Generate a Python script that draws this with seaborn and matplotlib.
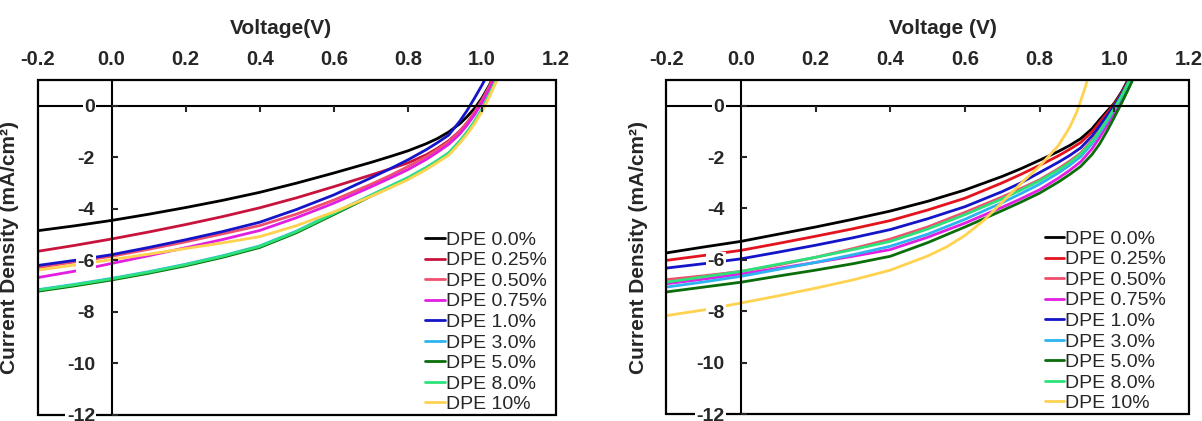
import pandas as pd
import matplotlib
matplotlib.use("Agg")
import matplotlib.pyplot as plt
import seaborn as sns
from matplotlib.patches import Rectangle

# shared voltage grid (V)
voltage = [-0.2, -0.1, 0.0, 0.1, 0.2, 0.3, 0.4, 0.5, 0.6, 0.7, 0.75, 0.8,
           0.85, 0.88, 0.91, 0.94, 0.96, 0.98, 1.0, 1.02, 1.04, 1.06]

labels = ["DPE 0.0%", "DPE 0.25%", "DPE 0.50%", "DPE 0.75%", "DPE 1.0%",
          "DPE 3.0%", "DPE 5.0%", "DPE 8.0%", "DPE 10%"]

colors_left = ["#000000", "#c8143c", "#f0506e", "#e21ee2", "#1414c8",
               "#2cb4f0", "#0a6e0a", "#2ee27a", "#ffd250"]
colors_right = ["#000000", "#e3141e", "#f0506e", "#e21ee2", "#1414c8",
                "#2cb4f0", "#0a6e0a", "#2ee27a", "#ffd250"]

# left panel current density (mA/cm2)
left_00 = [-4.85, -4.66, -4.45, -4.21, -3.95, -3.67, -3.36, -3.0, -2.61, -2.2, -1.98,
           -1.75, -1.47, -1.27, -1.02, -0.7, -0.42, -0.1, 0.3, 0.8, 1.4, 2.0]
left_025 = [-5.65, -5.42, -5.17, -4.9, -4.61, -4.3, -3.96, -3.57, -3.14, -2.69, -2.46,
            -2.22, -1.9, -1.65, -1.36, -0.98, -0.66, -0.28, 0.18, 0.72, 1.35, 2.0]
left_050 = [-6.28, -6.06, -5.84, -5.57, -5.28, -4.97, -4.65, -4.2, -3.66, -3.05, -2.72,
            -2.36, -1.97, -1.7, -1.4, -1.0, -0.65, -0.25, 0.22, 0.75, 1.35, 2.0]
left_075 = [-6.67, -6.42, -6.12, -5.82, -5.51, -5.19, -4.84, -4.34, -3.78, -3.15, -2.82,
            -2.48, -2.08, -1.8, -1.5, -1.1, -0.75, -0.35, 0.12, 0.65, 1.25, 1.9]
left_10 = [-6.2, -6.0, -5.78, -5.5, -5.2, -4.88, -4.52, -4.02, -3.46, -2.8, -2.46,
           -2.1, -1.7, -1.43, -1.14, -0.6, -0.18, 0.3, 0.8, 1.35, 1.95, 2.6]
left_30 = [-7.14, -6.93, -6.7, -6.44, -6.15, -5.82, -5.44, -4.86, -4.16, -3.47, -3.13,
           -2.79, -2.39, -2.12, -1.83, -1.37, -1.01, -0.61, -0.13, 0.43, 1.06, 1.71]
left_50 = [-7.2, -6.99, -6.76, -6.5, -6.21, -5.88, -5.5, -4.92, -4.22, -3.51, -3.17,
           -2.83, -2.43, -2.16, -1.87, -1.41, -1.05, -0.65, -0.17, 0.39, 1.02, 1.67]
left_80 = [-7.16, -6.95, -6.72, -6.46, -6.17, -5.84, -5.46, -4.88, -4.18, -3.48, -3.14,
           -2.8, -2.4, -2.13, -1.84, -1.38, -1.02, -0.62, -0.14, 0.42, 1.05, 1.7]
left_100 = [-6.38, -6.18, -5.97, -5.76, -5.54, -5.32, -5.08, -4.65, -4.12, -3.52, -3.2,
            -2.87, -2.47, -2.2, -1.92, -1.45, -1.1, -0.7, -0.22, 0.35, 0.98, 1.65]

# right panel current density (mA/cm2)
right_00 = [-5.73, -5.5, -5.28, -5.0, -4.72, -4.42, -4.1, -3.72, -3.28, -2.75, -2.45,
            -2.12, -1.78, -1.55, -1.28, -0.9, -0.55, -0.22, 0.1, 0.55, 1.1, 1.7]
right_025 = [-6.02, -5.83, -5.63, -5.36, -5.08, -4.79, -4.47, -4.06, -3.6, -3.0, -2.67,
             -2.32, -1.95, -1.7, -1.43, -1.02, -0.66, -0.3, 0.06, 0.5, 1.05, 1.65]
right_050 = [-6.77, -6.62, -6.45, -6.2, -5.9, -5.56, -5.19, -4.72, -4.15, -3.55, -3.22,
             -2.88, -2.45, -2.16, -1.84, -1.35, -0.95, -0.52, -0.06, 0.42, 0.98, 1.6]
right_075 = [-6.93, -6.75, -6.55, -6.33, -6.1, -5.86, -5.6, -5.12, -4.57, -3.95, -3.62,
             -3.27, -2.82, -2.52, -2.18, -1.68, -1.25, -0.78, -0.25, 0.28, 0.88, 1.5]
right_10 = [-6.32, -6.15, -5.96, -5.7, -5.43, -5.14, -4.82, -4.4, -3.93, -3.34, -3.0,
            -2.6, -2.2, -1.94, -1.64, -1.18, -0.8, -0.4, 0.0, 0.45, 1.0, 1.6]
right_30 = [-7.06, -6.86, -6.64, -6.37, -6.1, -5.8, -5.47, -5.0, -4.42, -3.77, -3.42,
            -3.05, -2.62, -2.32, -1.98, -1.48, -1.07, -0.62, -0.14, 0.36, 0.94, 1.55]
right_50 = [-7.25, -7.06, -6.87, -6.63, -6.4, -6.15, -5.86, -5.33, -4.72, -4.08, -3.75,
            -3.4, -2.97, -2.68, -2.36, -1.9, -1.5, -1.0, -0.45, 0.12, 0.72, 1.35]
right_80 = [-6.87, -6.66, -6.45, -6.17, -5.9, -5.6, -5.28, -4.8, -4.24, -3.62, -3.28,
            -2.92, -2.5, -2.22, -1.88, -1.4, -1.0, -0.56, -0.1, 0.4, 0.98, 1.6]
# the 10% device on the right reaches Voc earlier, own voltage grid
voltage_right_100 = [-0.2, -0.1, 0.0, 0.1, 0.2, 0.3, 0.4, 0.5, 0.55, 0.6, 0.65, 0.7,
                     0.75, 0.8, 0.85, 0.88, 0.9, 0.92, 0.94]
right_100 = [-8.17, -7.95, -7.68, -7.4, -7.1, -6.78, -6.4, -5.85, -5.5, -5.05, -4.47,
             -3.75, -3.02, -2.35, -1.55, -0.85, -0.22, 0.62, 1.6]

left_series = [left_00, left_025, left_050, left_075, left_10, left_30, left_50, left_80, left_100]
right_series = [right_00, right_025, right_050, right_075, right_10, right_30, right_50, right_80]

xticks = [-0.2, 0.0, 0.2, 0.4, 0.6, 0.8, 1.0, 1.2]
yticks = [0, -2, -4, -6, -8, -10, -12]


def build_frame(series, volts):
    rows = []
    for lab, cur, v in zip(labels, series, volts):
        rows.append(pd.DataFrame({"V": v, "J": cur, "sample": lab}))
    return pd.concat(rows, ignore_index=True)


def draw_panel(ax, df, colors, xlabel, xlabel_x, legend_x):
    sns.lineplot(data=df, x="V", y="J", hue="sample", hue_order=labels,
                 palette=dict(zip(labels, colors)), sort=False, estimator=None,
                 linewidth=2.0, ax=ax, legend="full")
    ax.set_axisbelow(False)
    ax.set_xlim(-0.2, 1.2)
    ax.set_ylim(-12, 1.0)
    ax.axhline(0, color="black", lw=1.5, zorder=2.1)
    ax.axvline(0, color="black", lw=1.5, zorder=2.1)

    for side in ["left", "bottom", "top", "right"]:
        ax.spines[side].set_visible(False)
    ax.add_patch(Rectangle((0, 0), 1, 1, transform=ax.transAxes, fill=False,
                           lw=1.6, edgecolor="black", clip_on=False, zorder=2.2))

    # x ticks hang below the J=0 line, y ticks sit on the V=0 line
    ax.spines["bottom"].set_position(("data", 0))
    ax.spines["left"].set_position(("data", 0))
    ax.set_xticks([0.2, 0.4, 0.6, 0.8, 1.0])
    ax.tick_params(axis="x", bottom=True, direction="out", length=4.5, width=1.5,
                   labelbottom=False)
    ax.set_yticks(yticks)
    ax.set_yticklabels([str(t) for t in yticks])
    ax.tick_params(axis="y", left=True, direction="in", length=4.5, width=1.5,
                   pad=12, labelsize=14)
    for lab in ax.get_yticklabels():
        lab.set_fontweight("bold")
        lab.set_bbox(dict(facecolor="white", edgecolor="none", pad=1.0))
    ax.set_xlabel("")
    ax.set_ylabel("Current Density (mA/cm²)", fontsize=15, fontweight="bold")
    ax.yaxis.set_label_coords(-0.035, 0.5)

    sec = ax.secondary_xaxis("top")
    sec.set_xticks(xticks)
    sec.set_xticklabels([f"{t:.1f}" for t in xticks])
    sec.tick_params(length=0, pad=8, labelsize=14.5)
    for lab in sec.get_xticklabels():
        lab.set_fontweight("bold")
    sec.spines["top"].set_visible(False)
    # axis title sits above the top tick labels
    ax.text(xlabel_x, 1.155, xlabel, transform=ax.transAxes, ha="center",
            va="center", fontsize=15, fontweight="bold")

    h, l = ax.get_legend_handles_labels()
    ax.legend(h, l, loc="lower left", bbox_to_anchor=(legend_x, -0.006),
              frameon=False, fontsize=14, handlelength=1.0, handletextpad=0.05,
              labelspacing=0.15, borderpad=0.2, borderaxespad=0.0)


sns.set_style("white")
plt.rcParams["font.family"] = ["Liberation Sans", "DejaVu Sans"]
plt.rcParams["axes.unicode_minus"] = False

fig = plt.figure(figsize=(12.02, 4.21), dpi=100)
ax1 = fig.add_axes([0.0312, 0.0143, 0.4314, 0.7957])
ax2 = fig.add_axes([0.5543, 0.0166, 0.4349, 0.7933])

left_df = build_frame(left_series, [voltage] * 9)
right_df = build_frame(right_series + [right_100], [voltage] * 8 + [voltage_right_100])

draw_panel(ax1, left_df, colors_left, "Voltage(V)", 0.47, 0.74)
draw_panel(ax2, right_df, colors_right, "Voltage (V)", 0.53, 0.717)

fig.savefig("out.png", dpi=100)
